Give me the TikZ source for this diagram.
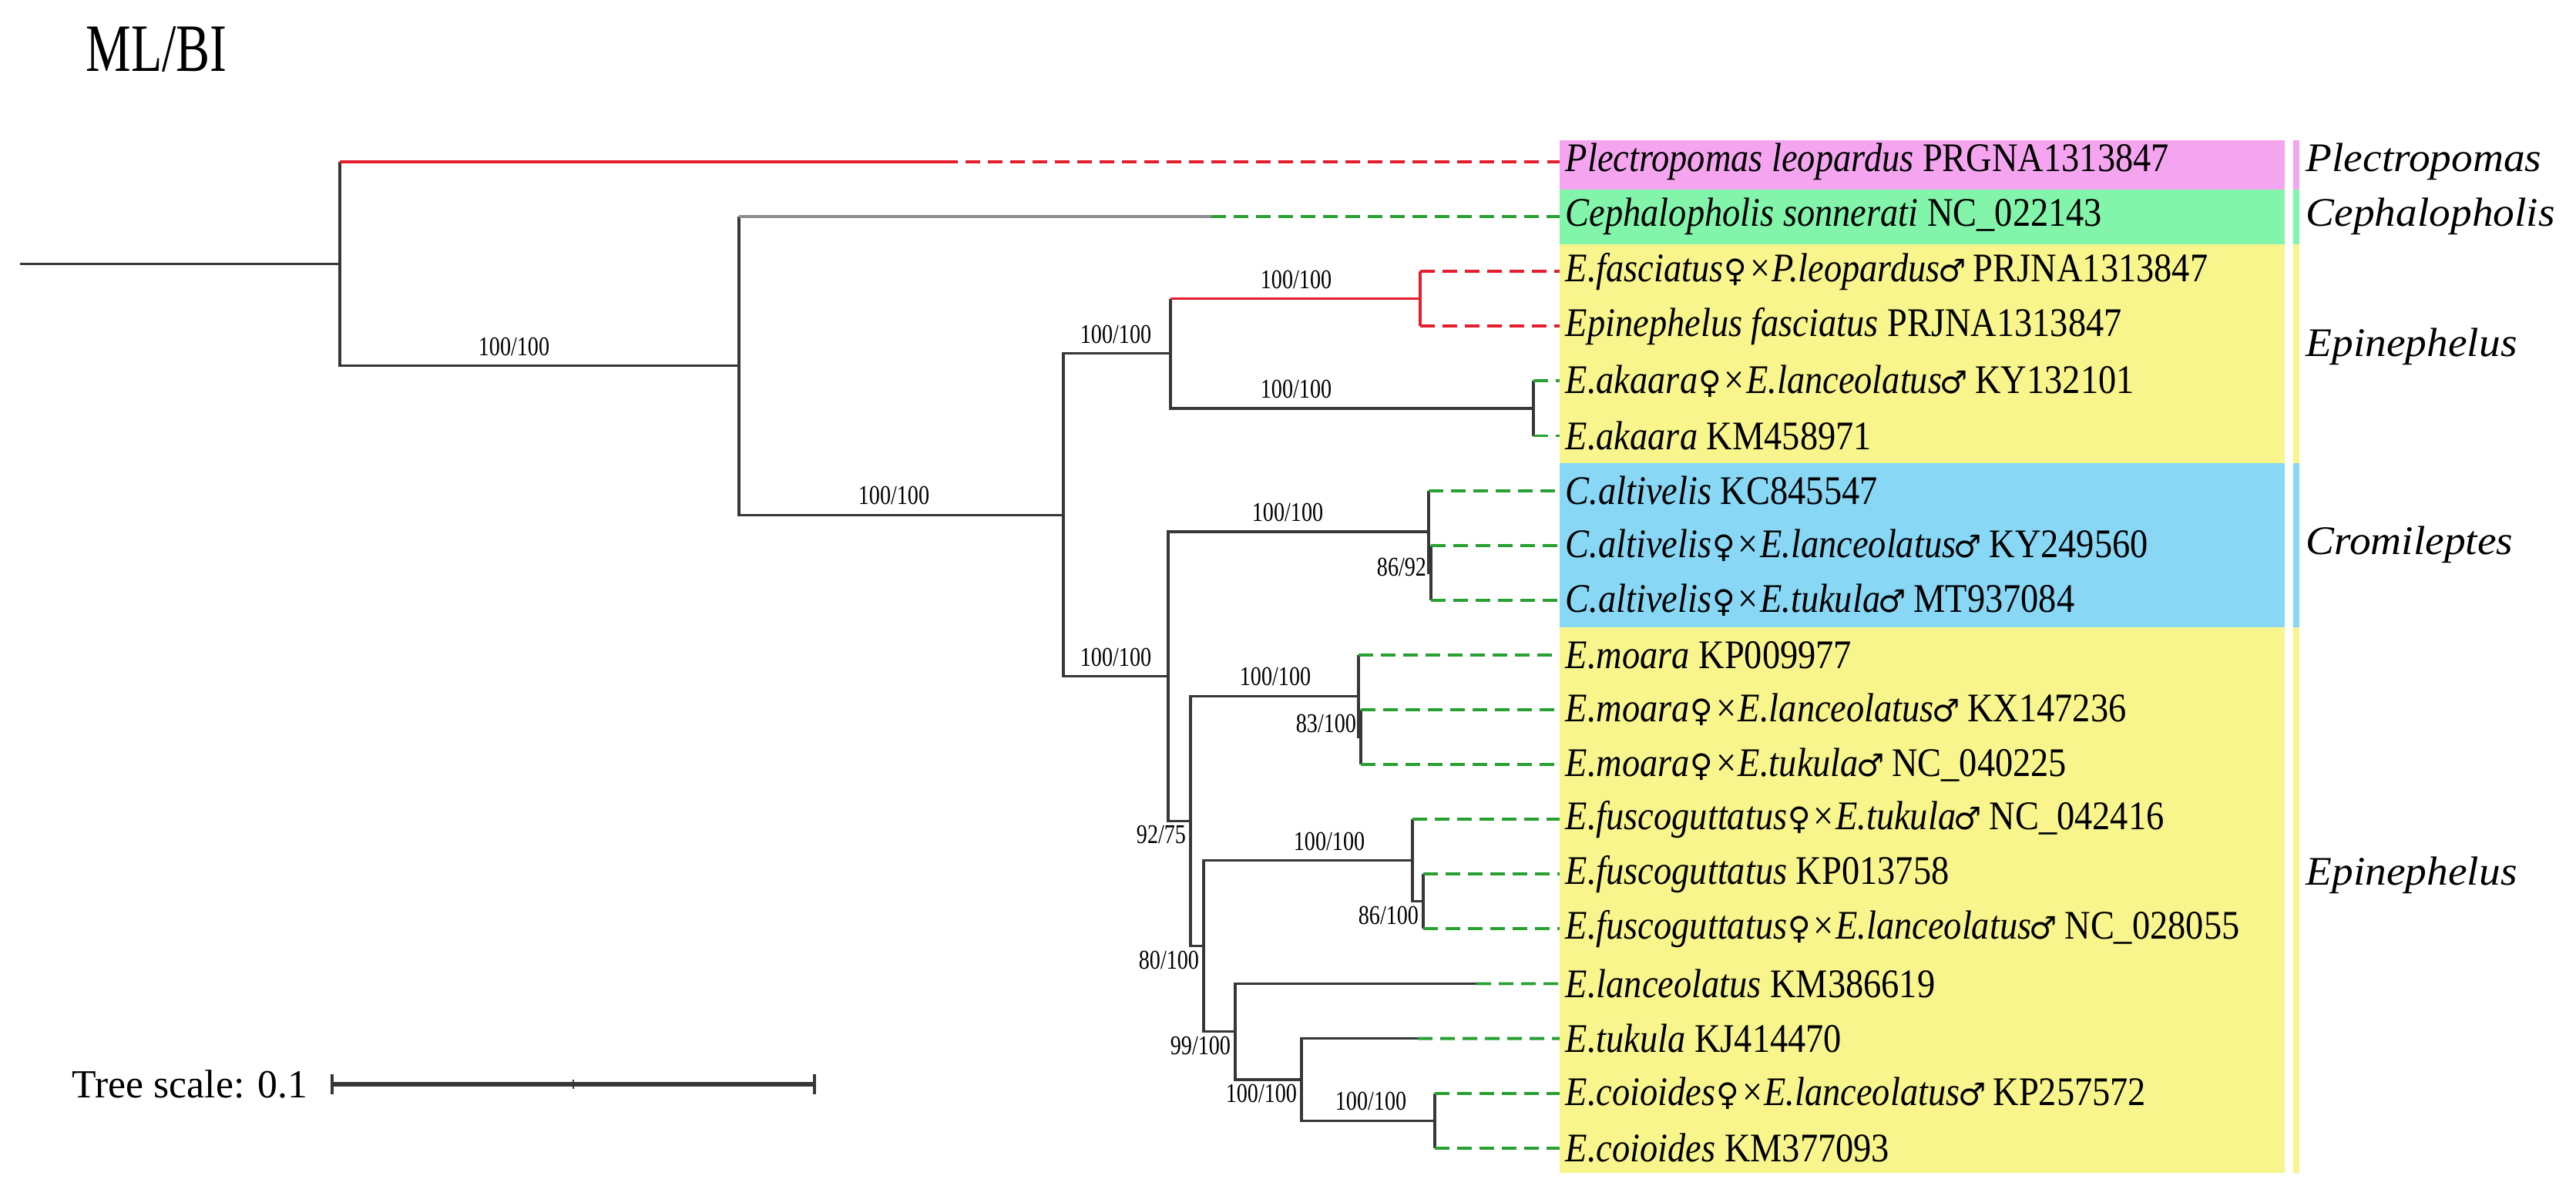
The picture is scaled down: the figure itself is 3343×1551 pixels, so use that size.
\documentclass[tikz,border=0pt]{standalone}
\usepackage{fontspec}
\setmainfont{Liberation Serif}
\newfontfamily\condfont{Liberation Serif}[FakeStretch=0.8]
\newfontfamily\titlefont{Liberation Serif}[FakeStretch=0.75]
\newfontfamily\leaffont{Liberation Serif}[FakeStretch=0.88]
\newfontfamily\cladefont{Liberation Serif}[FakeStretch=1.05]
\newfontfamily\symfont{DejaVu Sans}
\newcommand{\fem}{\makebox[0.6em]{\symfont\fontsize{11.5}{11.5}\selectfont ♀}}
\newcommand{\mal}{\makebox[0.6em]{\symfont\fontsize{11.5}{11.5}\selectfont ♂}}
\usetikzlibrary{calc}
\definecolor{branchred}{RGB}{228,30,45}
\definecolor{dashgreen}{RGB}{40,160,50}
\definecolor{branchgray}{RGB}{140,140,140}
\definecolor{treeblack}{RGB}{55,55,55}
\definecolor{bandpink}{RGB}{245,165,240}
\definecolor{bandgreen}{RGB}{130,245,170}
\definecolor{bandyellow}{RGB}{248,245,140}
\definecolor{bandblue}{RGB}{135,215,245}
\tikzset{
  br/.style={draw=treeblack, line width=0.9pt},
  redbr/.style={draw=branchred, line width=0.9pt},
  graybr/.style={draw=branchgray, line width=1.1pt},
  reddash/.style={draw=branchred, line width=1.1pt, dash pattern=on 0.19cm off 0.1cm},
  greendash/.style={draw=dashgreen, line width=1.1pt, dash pattern=on 0.19cm off 0.1cm},
  leaf/.style={anchor=west, font=\leaffont\fontsize{15}{17}\selectfont, inner sep=2pt},
  clade/.style={anchor=west, font=\cladefont\fontsize{15}{17}\selectfont\itshape, inner sep=0pt},
  bs/.style={font=\condfont\fontsize{10}{11}\selectfont, inner sep=1.5pt},
  bsup/.style={bs, anchor=south, yshift=2pt},
}

\begin{document}
\begin{tikzpicture}[x=0.01cm, y=-0.01cm]
  \useasboundingbox (0,0) rectangle (3343,1551);

  \node[font=\titlefont\fontsize{25}{28}\selectfont] (title) at (203,64) {ML/BI};

  % coloured bands
  \fill[bandpink] (2024,182) rectangle (2965,245.5);
  \fill[bandgreen] (2024,245.5) rectangle (2965,316.6);
  \fill[bandyellow] (2024,316.6) rectangle (2965,601);
  \fill[bandblue] (2024,601) rectangle (2965,814);
  \fill[bandyellow] (2024,814) rectangle (2965,1522);
  \fill[bandpink] (2976,182) rectangle (2984,245.5);
  \fill[bandgreen] (2976,245.5) rectangle (2984,316.6);
  \fill[bandyellow] (2976,316.6) rectangle (2984,601);
  \fill[bandblue] (2976,601) rectangle (2984,814);
  \fill[bandyellow] (2976,814) rectangle (2984,1522);

  \foreach \i/\txt in {
      0/{\textit{Plectropomas leopardus} PRGNA1313847},
      1/{\textit{Cephalopholis sonnerati} NC\_022143},
      2/{\textit{E.fasciatus\fem×P.leopardus\mal} PRJNA1313847},
      3/{\textit{Epinephelus fasciatus} PRJNA1313847},
      4/{\textit{E.akaara\fem×E.lanceolatus\mal} KY132101},
      5/{\textit{E.akaara} KM458971},
      6/{\textit{C.altivelis} KC845547},
      7/{\textit{C.altivelis\fem×E.lanceolatus\mal} KY249560},
      8/{\textit{C.altivelis\fem×E.tukula\mal} MT937084},
      9/{\textit{E.moara} KP009977},
      10/{\textit{E.moara\fem×E.lanceolatus\mal} KX147236},
      11/{\textit{E.moara\fem×E.tukula\mal} NC\_040225},
      12/{\textit{E.fuscoguttatus\fem×E.tukula\mal} NC\_042416},
      13/{\textit{E.fuscoguttatus} KP013758},
      14/{\textit{E.fuscoguttatus\fem×E.lanceolatus\mal} NC\_028055},
      15/{\textit{E.lanceolatus} KM386619},
      16/{\textit{E.tukula} KJ414470},
      17/{\textit{E.coioides\fem×E.lanceolatus\mal} KP257572},
      18/{\textit{E.coioides} KM377093}}
    \node[leaf] (l\i) at (2024,{210+71.1*\i}) {\txt};

  \node[clade] (cPle) at (2992,210) {Plectropomas};
  \node[clade] (cCep) at (2992,281) {Cephalopholis};
  \node[clade] (cEpi1) at (2992,450) {Epinephelus};
  \node[clade] (cCro) at (2992,707) {Cromileptes};
  \node[clade] (cEpi2) at (2992,1136) {Epinephelus};

  % tree
  \coordinate (start) at (26,342.34);
  \coordinate (root) at (441,342.34);
  \coordinate (X) at (959,474.68);
  \coordinate (Y) at (1380,668.26);
  \coordinate (A) at (1519,458.85);
  \coordinate (fasc) at (1843,387.75);
  \coordinate (akaara) at (1990,529.95);
  \coordinate (B) at (1516,877.67);
  \coordinate (crOut) at (1854,689.93);
  \coordinate (crIn) at (1857,743.25);
  \coordinate (C) at (1545,1065.42);
  \coordinate (moOut) at (1763,903.23);
  \coordinate (moIn) at (1766,956.55);
  \coordinate (D) at (1562,1227.62);
  \coordinate (fuOut) at (1833,1116.53);
  \coordinate (fuIn) at (1847,1169.85);
  \coordinate (E) at (1603,1338.71);
  \coordinate (F) at (1689,1400.93);
  \coordinate (co) at (1862,1454.25);
  \coordinate (t0) at (1224,210);
  \coordinate (t1) at (1572,281.1);
  \coordinate (t15) at (1916,1276.5);
  \coordinate (t16) at (1840,1347.6);

  \draw[br] (start) -- (root);
  \draw[br] (t0 -| root) -- (root) |- (X);
  \draw[redbr] (t0 -| root) -- (t0);
  \draw[br] (t1 -| X) -- (X) |- (Y);
  \draw[graybr] (t1 -| X) -- (t1);
  \draw[br] (A) -| (Y) |- (B);
  \draw[br] (fasc -| A) -- (A) |- (akaara);
  \draw[redbr] (fasc -| A) -- (fasc);
  \draw[redbr] (l2 -| fasc) -- (l3 -| fasc);
  \draw[br] (l4 -| akaara) -- (l5 -| akaara);
  \draw[br] (crOut) -| (B) |- (C);
  \draw[br] (l6 -| crOut) |- (crIn);
  \draw[br] (l7 -| crIn) -- (l8 -| crIn);
  \draw[br] (moOut) -| (C) |- (D);
  \draw[br] (l9 -| moOut) |- (moIn);
  \draw[br] (l10 -| moIn) -- (l11 -| moIn);
  \draw[br] (fuOut) -| (D) |- (E);
  \draw[br] (l12 -| fuOut) |- (fuIn);
  \draw[br] (l13 -| fuIn) -- (l14 -| fuIn);
  \draw[br] (t15) -| (E) |- (F);
  \draw[br] (t16) -| (F) |- (co);
  \draw[br] (l17 -| co) -- (l18 -| co);

  \draw[reddash] (t0) -- (l0.west);
  \draw[greendash] (t1) -- (l1.west);
  \draw[reddash] (l2 -| fasc) -- (l2.west);
  \draw[reddash] (l3 -| fasc) -- (l3.west);
  \draw[greendash] (t15) -- (l15.west);
  \draw[greendash] (t16) -- (l16.west);
  \foreach \i/\from in {4/akaara,5/akaara,6/crOut,7/crIn,8/crIn,9/moOut,10/moIn,
      11/moIn,12/fuOut,13/fuIn,14/fuIn,17/co,18/co}
    \draw[greendash] (l\i -| \from) -- (l\i.west);

  % support values
  \node[bsup] (bX) at (667,0 |- X) {100/100};
  \node[bsup] (bY) at (1160,0 |- Y) {100/100};
  \node[bsup] (bA) at (1448,0 |- A) {100/100};
  \node[bsup] (bfa) at (1682,0 |- fasc) {100/100};
  \node[bsup] (bak) at (1682,0 |- akaara) {100/100};
  \node[bsup] (bcr) at (1671,0 |- crOut) {100/100};
  \node[bsup] (bB) at (1448,0 |- B) {100/100};
  \node[bsup] (bmo) at (1655,0 |- moOut) {100/100};
  \node[bsup] (bfu) at (1725,0 |- fuOut) {100/100};
  \node[bsup] (bco) at (1779,0 |- co) {100/100};
  \node[bs, anchor=east, yshift=2pt] (bcrIn) at (crIn) {86/92};
  \node[bs, anchor=south east] (bmoIn) at (moIn) {83/100};
  \node[bs, anchor=north east] (bC) at (C) {92/75};
  \node[bs, anchor=north east] (bfuIn) at (fuIn) {86/100};
  \node[bs, anchor=north east] (bD) at (D) {80/100};
  \node[bs, anchor=north east] (bE) at (E) {99/100};
  \node[bs, anchor=north east] (bF) at (F) {100/100};

  % scale bar
  \node[anchor=east, font=\fontsize{14.7}{17}\selectfont, inner sep=0pt] (tsc) at (400,1407) {Tree scale: 0.1};
  \coordinate (sbL) at (431,1407);
  \coordinate (sbR) at (1057,1407);
  \coordinate (sbM) at ($(sbL)!0.5!(sbR)$);
  \draw[treeblack, line width=1.5pt] (sbL) -- (sbR);
  \draw[treeblack, line width=1pt] ($(sbL)+(0,-13)$) -- ($(sbL)+(0,13)$);
  \draw[treeblack, line width=1pt] ($(sbR)+(0,-13)$) -- ($(sbR)+(0,13)$);
  \draw[treeblack, line width=0.6pt] ($(sbM)+(0,-6)$) -- ($(sbM)+(0,6)$);
\end{tikzpicture}
\end{document}
